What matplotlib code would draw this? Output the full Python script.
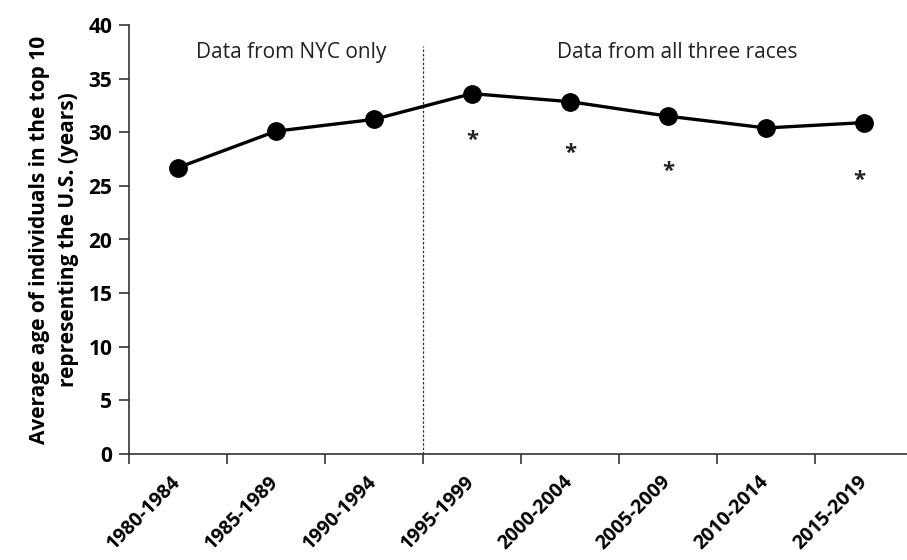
import matplotlib.pyplot as plt
import numpy as np

plt.rcParams['font.family'] = ['Open Sans', 'DejaVu Sans']

# Data
periods = ['1980-1984', '1985-1989', '1990-1994', '1995-1999',
           '2000-2004', '2005-2009', '2010-2014', '2015-2019']
avg_age = [26.7, 30.1, 31.2, 33.6, 32.85, 31.5, 30.4, 30.9]

# significance asterisks (category index, y value)
star_idx = [3, 4, 5, 7]
star_y = [29.6, 28.4, 26.7, 25.9]

fig = plt.figure(figsize=(9.07, 5.6), dpi=100)
ax = fig.add_axes([129 / 907, 106 / 560, 1 - 129 / 907, 429 / 560])

x = np.arange(len(periods))
ax.plot(x, avg_age, color='black', linewidth=2.4, marker='o', markersize=12.5,
        zorder=3, clip_on=False)

for i, yv in zip(star_idx, star_y):
    ax.text(x[i] - (0.05 if i == 7 else 0), yv - 0.4, '*', ha='center', va='center',
            fontsize=16, fontweight='bold', color='#222222')

# separator between NYC-only and all three races
ax.axvline(2.5, ymax=0.95, color='#333333', linestyle=(0, (2, 1.5)), linewidth=0.9)

ax.text(1.16, 37.4, 'Data from NYC only', ha='center', va='center',
        fontsize=15, color='#222222')
ax.text(5.1, 37.4, 'Data from all three races', ha='center', va='center',
        fontsize=15, color='#222222')

ax.set_xlim(-0.5, 7.44)
ax.set_ylim(0, 40)
ax.set_yticks(np.arange(0, 41, 5))
ax.set_xticks(x)
ax.set_xticklabels(periods, rotation=45, ha='right', va='center',
                   rotation_mode='anchor', fontsize=14, fontweight='bold')
ax.set_xticks(np.arange(-0.5, 7.5, 1), minor=True)
ax.tick_params(axis='x', which='major', length=0, pad=18)
ax.tick_params(axis='x', which='minor', length=7, width=1.2, direction='out', color='#333333')
ax.tick_params(axis='y', length=7, width=1.2, direction='out', color='#333333',
               labelsize=15, pad=5)
for lbl in ax.get_yticklabels():
    lbl.set_fontweight('bold')

ax.set_ylabel('Average age of individuals in the top 10\nrepresenting the U.S. (years)',
              fontsize=15, fontweight='bold', labelpad=7, linespacing=1.45)

for side in ['top', 'right']:
    ax.spines[side].set_visible(False)
for side in ['left', 'bottom']:
    ax.spines[side].set_color('#333333')
    ax.spines[side].set_linewidth(1.2)

fig.savefig('out.png', dpi=100)
